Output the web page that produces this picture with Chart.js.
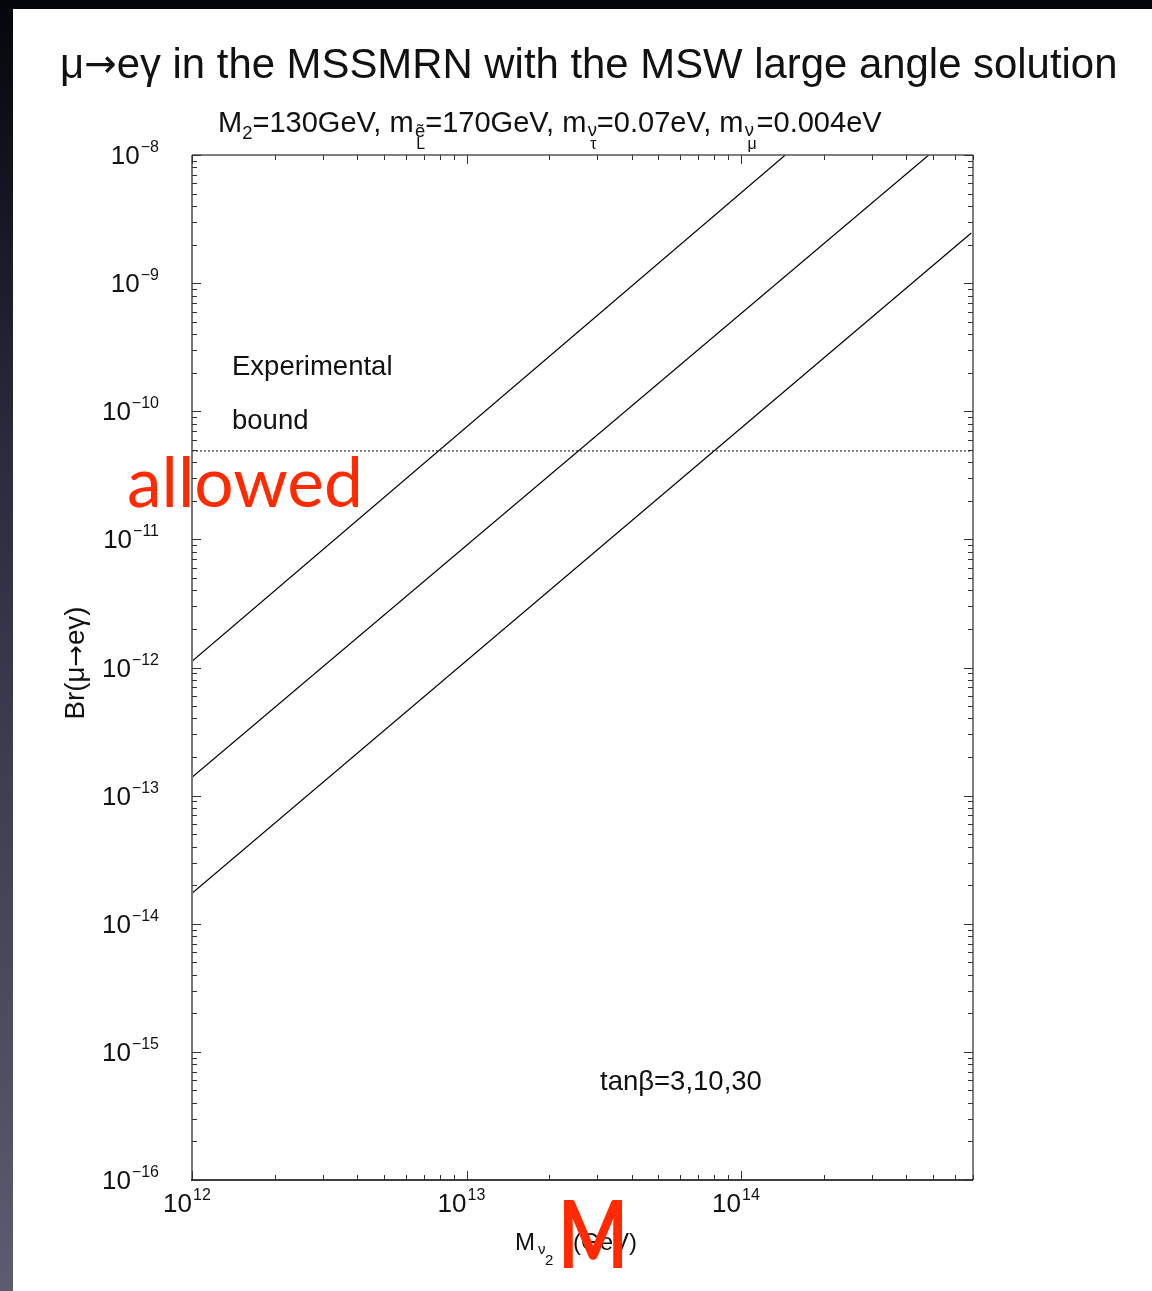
<!DOCTYPE html>
<html><head><meta charset="utf-8">
<script src="https://cdn.jsdelivr.net/npm/chart.js@4.4.1/dist/chart.umd.min.js"></script>
<style>html,body{margin:0;padding:0;background:#fff;overflow:hidden}canvas{display:block}</style>
</head><body>
<canvas id="c" width="1152" height="1291"></canvas>
<script>
// ---- data ----
const massA = [1e12, 1.45e14];      // GeV, upper line
const brA   = [1.12e-12, 1e-8];
const massB = [1e12, 4.83e14];      // middle line
const brB   = [1.39e-13, 1e-8];
const massC = [1e12, 6.9e14];       // lower line
const brC   = [1.73e-14, 2.46e-9];
const boundMass = [1e12, 7e14];
const boundBr   = [4.9e-11, 4.9e-11];
const xDecades = [12, 13, 14];
const yDecades = [-8, -9, -10, -11, -12, -13, -14, -15, -16];

const pts = (xs, ys) => xs.map((x, i) => ({x, y: ys[i]}));
const SANS = '"Liberation Sans", Arial, Helvetica, sans-serif';
const ARROWF = '"DejaVu Sans", sans-serif';

function font(sz){ return sz + 'px ' + SANS; }

function drawRich(ctx, x, y, parts, scale){
  scale = scale || 1;
  let cx = x, prevStart = x, prevW = 0;
  for (const p of parts){
    ctx.font = (p.size * scale) + 'px ' + (p.fam || SANS);
    const w = ctx.measureText(p.t).width;
    const dx = (p.dx || 0) * scale, dy = (p.dy || 0) * scale;
    if (p.under){
      ctx.fillText(p.t, prevStart + dx, y + dy);
      cx = prevStart + Math.max(prevW, w + dx);
    } else {
      ctx.fillText(p.t, cx + dx, y + dy);
      prevStart = cx; prevW = w + dx;
      cx += w + dx;
    }
  }
  return cx - x;
}
function measureRich(ctx, parts, scale){
  scale = scale || 1;
  let w = 0, prevW = 0;
  for (const p of parts){
    ctx.font = (p.size * scale) + 'px ' + (p.fam || SANS);
    const t = ctx.measureText(p.t).width + (p.dx || 0) * scale;
    if (p.under){ if (t > prevW){ w += t - prevW; } }
    else { w += t; prevW = t; }
  }
  return w;
}
function fitFont(ctx, text, family, targetW, base){
  ctx.font = base + 'px ' + family;
  return base * targetW / ctx.measureText(text).width;
}

const bgPlugin = {
  id: 'bg',
  beforeDraw(chart){
    const ctx = chart.ctx;
    ctx.save();
    ctx.fillStyle = '#fff';
    ctx.fillRect(0, 0, chart.width, chart.height);
    ctx.fillStyle = '#05050c';
    ctx.fillRect(0, 0, chart.width, 9);
    const g = ctx.createLinearGradient(0, 0, 0, chart.height);
    g.addColorStop(0, '#05050c');
    g.addColorStop(0.35, '#2a2b3e');
    g.addColorStop(1, '#5b5c72');
    ctx.fillStyle = g;
    ctx.fillRect(0, 9, 13, chart.height);
    ctx.restore();
  }
};

const framePlugin = {
  id: 'frame',
  afterDatasetsDraw(chart){
    const ctx = chart.ctx;
    const xs = chart.scales.x, ys = chart.scales.y;
    const a = chart.chartArea;
    ctx.save();
    ctx.lineWidth = 1.5;
    ctx.strokeStyle = '#555';
    ctx.beginPath();
    ctx.moveTo(a.left, a.top); ctx.lineTo(a.right, a.top);
    ctx.moveTo(a.right, a.top); ctx.lineTo(a.right, a.bottom);
    ctx.stroke();
    ctx.strokeStyle = '#777';
    ctx.lineWidth = 2;
    ctx.beginPath(); ctx.moveTo(a.left, a.top); ctx.lineTo(a.left, a.bottom); ctx.stroke();
    ctx.strokeStyle = '#000';
    ctx.lineWidth = 1.6;
    ctx.beginPath(); ctx.moveTo(a.left - 1, a.bottom); ctx.lineTo(a.right, a.bottom); ctx.stroke();

    ctx.lineWidth = 1;
    ctx.strokeStyle = '#333';
    for (let d = 12; d <= 14; d++){
      for (let k = 1; k <= 9; k++){
        const v = k * Math.pow(10, d);
        if (v < xs.min * 0.999 || v > xs.max * 1.001) continue;
        const px = Math.round(xs.getPixelForValue(v)) + 0.5;
        const len = k === 1 ? 9 : 5;
        ctx.beginPath();
        ctx.moveTo(px, a.bottom); ctx.lineTo(px, a.bottom - len);
        ctx.moveTo(px, a.top); ctx.lineTo(px, a.top + len);
        ctx.stroke();
      }
    }
    for (let d = -16; d <= -8; d++){
      for (let k = 1; k <= 9; k++){
        const v = k * Math.pow(10, d);
        if (v < ys.min * 0.999 || v > ys.max * 1.001) continue;
        const py = Math.round(ys.getPixelForValue(v)) + 0.5;
        const len = k === 1 ? 9 : 5;
        ctx.beginPath();
        ctx.moveTo(a.left, py); ctx.lineTo(a.left + len, py);
        ctx.moveTo(a.right, py); ctx.lineTo(a.right - len, py);
        ctx.stroke();
      }
    }

    ctx.fillStyle = '#111';
    ctx.textBaseline = 'alphabetic';
    ctx.textAlign = 'left';
    for (const e of yDecades){
      const py = ys.getPixelForValue(Math.pow(10, e));
      const parts = [{t: '10', size: 26}, {t: '\u2212' + Math.abs(e), size: 16, dy: -12, dx: 1}];
      const w = measureRich(ctx, parts);
      drawRich(ctx, 159 - w, py + 9, parts);
    }
    for (const e of xDecades){
      const px = xs.getPixelForValue(Math.pow(10, e));
      ctx.font = font(26);
      const w10 = ctx.measureText('10').width;
      drawRich(ctx, px - w10, 1212, [{t: '10', size: 26}, {t: String(e), size: 16, dy: -12, dx: 1}]);
    }
    ctx.restore();
  }
};

const textPlugin = {
  id: 'texts',
  afterDraw(chart){
    const ctx = chart.ctx;
    ctx.save();
    ctx.fillStyle = '#111';
    ctx.textBaseline = 'alphabetic';
    ctx.textAlign = 'left';
    // title
    const title = [
      {t: '\u03BC', size: 41}, {t: '\u2192', size: 38, fam: ARROWF, dy: -1},
      {t: 'e\u03B3 in the MSSMRN with the MSW large angle solution', size: 41}
    ];
    const ts = 1058 / measureRich(ctx, title);
    drawRich(ctx, 60, 78, title, ts);

    // subtitle
    const M = 22, S = 14, SS = 12;
    const sub = [
      {t: 'M', size: M}, {t: '2', size: S, dy: 5},
      {t: '=130GeV, m', size: M},
      {t: '\u1EBD', size: S, dy: 4, dx: 1}, {t: 'L', size: SS, dy: 13, under: true, dx: 2},
      {t: '=170GeV, m', size: M},
      {t: '\u03BD', size: S, dy: 3, dx: 1}, {t: '\u03C4', size: SS, dy: 13, under: true, dx: 3},
      {t: '=0.07eV, m', size: M},
      {t: '\u03BD', size: S, dy: 3, dx: 1}, {t: '\u03BC', size: SS, dy: 13, under: true, dx: 3},
      {t: '=0.004eV', size: M}
    ];
    const ss = 664 / measureRich(ctx, sub);
    drawRich(ctx, 218, 132, sub, ss);

    // annotations
    ctx.font = font(27.5);
    ctx.fillText('Experimental', 232, 375);
    ctx.fillText('bound', 232, 429);
    ctx.fillText('tan\u03B2=3,10,30', 600, 1090);

    // x axis title
    drawRich(ctx, 515, 1250, [{t: 'M', size: 24}]);
    drawRich(ctx, 538, 1254, [{t: '\u03BD', size: 15}]);
    drawRich(ctx, 545, 1265, [{t: '2', size: 15}]);
    drawRich(ctx, 573, 1250, [{t: '(GeV)', size: 24}]);

    // y axis title
    ctx.save();
    ctx.translate(84, 663);
    ctx.rotate(-Math.PI / 2);
    const yt = [{t: 'Br(\u03BC', size: 26}, {t: '\u2192', size: 24, fam: ARROWF}, {t: 'e\u03B3)', size: 26}];
    const yw = measureRich(ctx, yt);
    const ysc = 113 / yw;
    drawRich(ctx, -56.5, 0, yt, ysc);
    ctx.restore();

    // red overlays
    ctx.fillStyle = '#ff2a00';
    const RF = 'Lato, "Open Sans", sans-serif';
    const af = fitFont(ctx, 'allowed', RF, 236, 64);
    ctx.font = af + 'px ' + RF;
    ctx.fillText('allowed', 127, 507);
    const MF = 'bold 90px Lato, "Open Sans", sans-serif';
    ctx.font = MF;
    const mw = ctx.measureText('M').width;
    ctx.save();
    ctx.translate(558, 1268);
    ctx.scale(70 / mw, 1.05);
    ctx.fillText('M', 0, 0);
    ctx.restore();
    ctx.restore();
  }
};

const lineStyle = {showLine: true, pointRadius: 0, borderColor: '#000', borderWidth: 1.2, fill: false};

new Chart(document.getElementById('c'), {
  type: 'scatter',
  data: {
    datasets: [
      Object.assign({label: 'A', data: pts(massA, brA)}, lineStyle),
      Object.assign({label: 'B', data: pts(massB, brB)}, lineStyle),
      Object.assign({label: 'C', data: pts(massC, brC)}, lineStyle),
      Object.assign({label: 'bound', data: pts(boundMass, boundBr)}, lineStyle, {borderDash: [2, 2], borderWidth: 1})
    ]
  },
  options: {
    responsive: false,
    devicePixelRatio: 1,
    animation: false,
    layout: {padding: {left: 192, top: 155, right: 179, bottom: 111}},
    plugins: {legend: {display: false}, tooltip: {enabled: false}},
    scales: {
      x: {type: 'logarithmic', min: 1e12, max: 7e14, display: false},
      y: {type: 'logarithmic', min: 1e-16, max: 1e-8, display: false}
    }
  },
  plugins: [bgPlugin, framePlugin, textPlugin]
});
</script>
</body></html>
